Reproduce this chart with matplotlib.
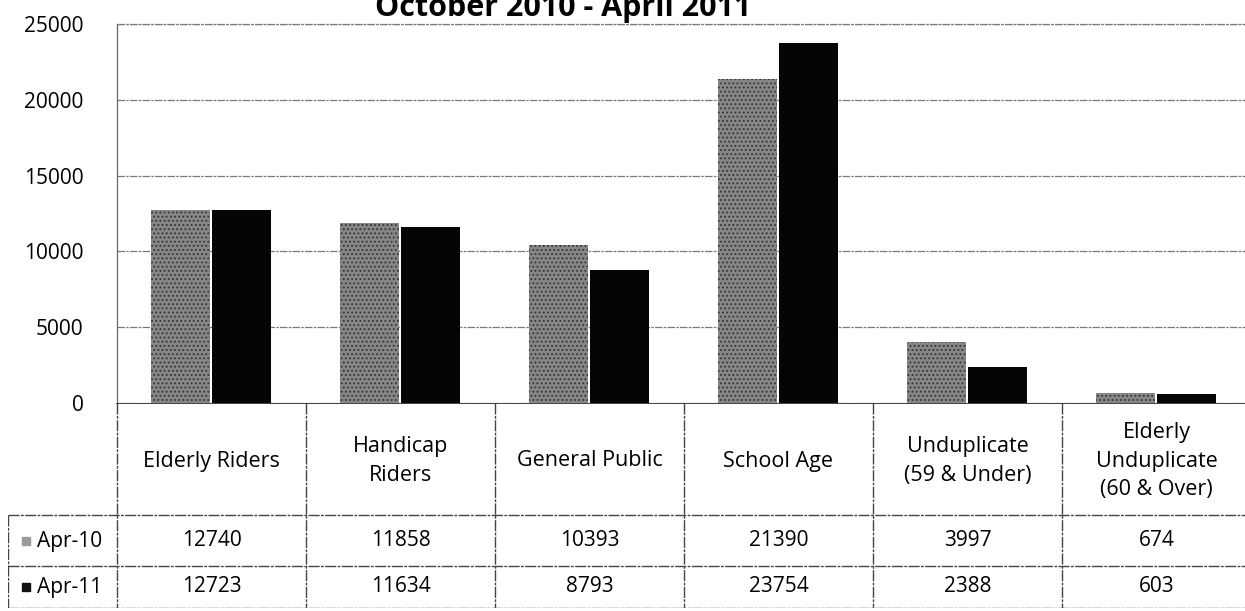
import matplotlib.pyplot as plt
import numpy as np

categories = ["Elderly Riders", "Handicap\nRiders", "General Public", "School Age",
              "Unduplicate\n(59 & Under)", "Elderly\nUnduplicate\n(60 & Over)"]
series_names = ["Apr-10", "Apr-11"]
apr10 = [12740, 11858, 10393, 21390, 3997, 674]
apr11 = [12723, 11634, 8793, 23754, 2388, 603]
yticks = [0, 5000, 10000, 15000, 20000, 25000]
title = "October 2010 - April 2011"

plt.rcParams['font.family'] = ['Open Sans', 'DejaVu Sans']
plt.rcParams['hatch.linewidth'] = 0.8

W, H = 1245, 611
fig = plt.figure(figsize=(W / 100, H / 100), dpi=100)

# pixel geometry of the plot area
x0, col = 117, 189
y_top, y_zero = 24, 403
right = x0 + 6 * col
ax = fig.add_axes([x0 / W, (H - y_zero) / H, (right - x0) / W, (y_zero - y_top) / H])
ax.set_xlim(-0.5, 5.5)
ax.set_ylim(0, 25000)

x = np.arange(len(categories))
bw = 0.31
ax.bar(x - 0.165, apr10, bw, color="#868686", hatch="....", edgecolor="#333333",
       linewidth=0, zorder=3)
ax.bar(x + 0.16, apr11, bw, color="#050505", zorder=3)

ax.set_yticks(yticks)
ax.set_yticklabels([str(v) for v in yticks], fontsize=15)
ax.tick_params(axis='y', length=0, pad=24)
ax.set_xticks([])
ax.yaxis.grid(True, color="#7a7a7a", linestyle=(0, (6, 1, 2, 1)), linewidth=0.9, zorder=0)
for s in ["top", "right", "bottom"]:
    ax.spines[s].set_visible(False)
ax.spines["left"].set_color("#666666")
ax.spines["left"].set_linestyle((0, (5, 1)))
ax.spines["left"].set_linewidth(0.9)
ax.axhline(25000, color="#7a7a7a", linestyle=(0, (6, 1, 2, 1)), linewidth=0.9, clip_on=False)

# the title sits partly above the top edge, as in the scanned original
fig.text(563 / W, 1 - 16 / H, title, ha="center", va="baseline", fontsize=22,
         fontweight="bold")

# data table under the plot, in pixel-like coordinates
tx0, bottom = 8, 608
tab = fig.add_axes([tx0 / W, (H - bottom) / H, (right - tx0) / W, (bottom - y_zero) / H])
tab.set_xlim(tx0, right)
tab.set_ylim(bottom, y_zero)
tab.axis("off")
ln = dict(color="#444444", linewidth=1.0, linestyle=(0, (8, 1, 2, 1)))
row1, row2 = 515, 566
tab.plot([x0, x0], [y_zero, bottom], **ln)
for i in range(1, 7):
    tab.plot([x0 + i * col, x0 + i * col], [y_zero, bottom], **ln)
tab.plot([x0, right], [y_zero, y_zero], color="#222222", linewidth=1.2)
tab.plot([tx0, right], [row1, row1], **ln)
tab.plot([tx0, right], [row2, row2], **ln)
tab.plot([tx0, right], [bottom, bottom], **ln)
tab.plot([tx0, tx0], [row1, bottom], **ln)

for i, name in enumerate(categories):
    cx = x0 + (i + 0.5) * col
    tab.text(cx, 461, name, ha="center", va="center", fontsize=15.5, linespacing=1.45)
    tab.text(cx, 541, str(apr10[i]), ha="center", va="center", fontsize=15)
    tab.text(cx, 587, str(apr11[i]), ha="center", va="center", fontsize=15)

tab.text(37, 541, series_names[0], ha="left", va="center", fontsize=15)
tab.text(37, 587, series_names[1], ha="left", va="center", fontsize=15)
tab.plot([26], [541], marker="s", markersize=6, color="#9a9a9a")
tab.plot([26], [587], marker="s", markersize=6, color="#111111")

fig.savefig("out.png", dpi=100)
